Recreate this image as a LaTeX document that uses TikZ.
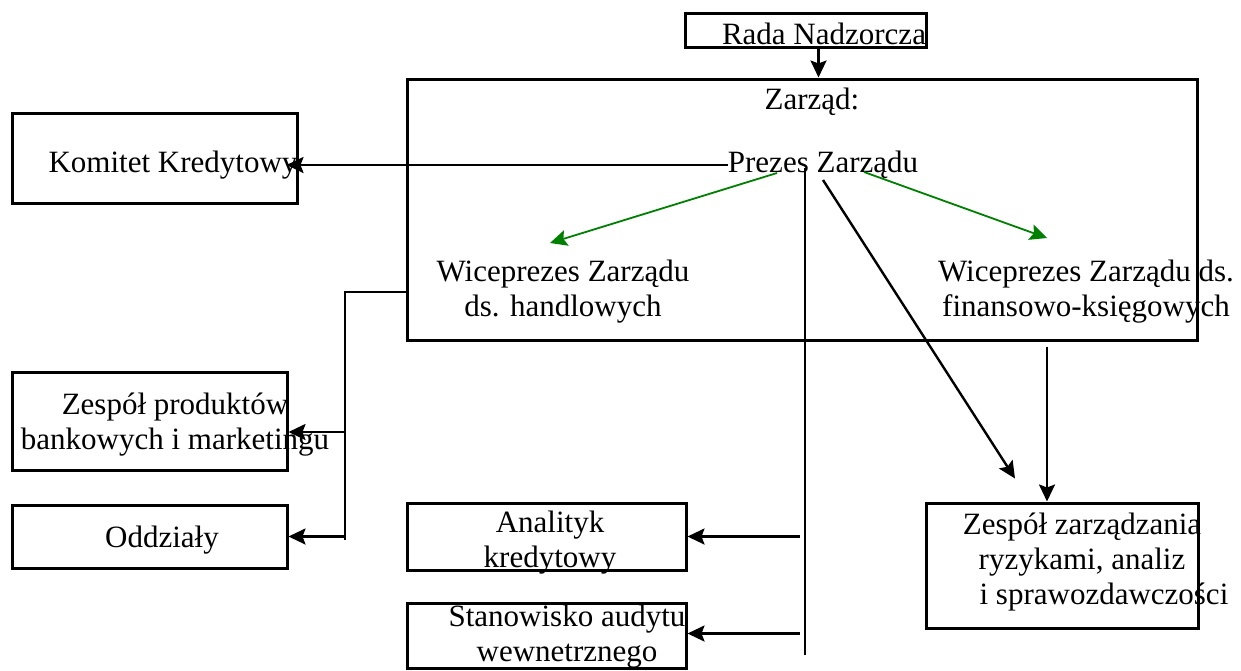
\documentclass[tikz,border=0pt]{standalone}
\usepackage{fontspec}
\setmainfont{Liberation Serif}
\usepackage{tikz}
\usetikzlibrary{arrows.meta}
\usetikzlibrary{calc}
\colorlet{grn}{green!50!black}
\tikzset{box/.style={draw, line width=1.5pt, inner sep=0pt}}
\tikzset{lbl/.style={align=center, inner sep=0pt}}
\tikzset{conn/.style={line width=1.2pt, ->, >={Stealth[length=8.5pt, width=8pt, inset=1.5pt]}}}
\tikzset{thinline/.style={line width=0.6pt}}

\begin{document}
\begin{tikzpicture}[x=0.5pt, y=-0.5pt, font=\fontsize{15.5}{17.5}\selectfont]
\useasboundingbox (0,0) rectangle (1241,670);
\node[box, minimum width=120.5pt, minimum height=17pt] (rada) at (805.5,30) {};
\node[box, minimum width=395pt, minimum height=130.5pt] (zarzad) at (802,209.5) {};
\node[box, minimum width=142.5pt, minimum height=45pt] (komitet) at (154.5,158) {};
\node[box, minimum width=137.5pt, minimum height=49pt] (produkty) at (149.5,421) {};
\node[box, minimum width=137.5pt, minimum height=31.5pt] (oddzialy) at (149.5,536.5) {};
\node[box, minimum width=139.5pt, minimum height=33.5pt] (analityk) at (546.5,536.5) {};
\node[box, minimum width=139.5pt, minimum height=32.5pt] (audyt) at (546.5,635.5) {};
\node[box, minimum width=136pt, minimum height=62.5pt] (ryzyko) at (1062,565.5) {};

\node[lbl] (rada-t) at (824,34) {Rada Nadzorcza};
\node[lbl] (zarzad-t) at (812,102) {Zarząd:};
\node[lbl] (prezes) at (823,165) {Prezes Zarządu};
\node[lbl] (komitet-t) at (173,165) {Komitet Kredytowy};
\node[lbl] (wice1) at (563,292) {Wiceprezes Zarządu\\ds. handlowych};
\node[lbl] (wice2) at (1086,292) {Wiceprezes Zarządu ds.\\finansowo-księgowych};
\node[lbl] (produkty-t) at (175,425) {Zespół produktów\\bankowych i marketingu};
\node[lbl] (oddzialy-t) at (162,540) {Oddziały};
\node[lbl] (analityk-t) at (550,543) {Analityk\\kredytowy};
\node[lbl] (audyt-t) at (567,637) {Stanowisko audytu\\wewnetrznego};
\node[lbl] (ryzyko-t) at (1082,562) {Zespół zarządzania\\ryzykami, analiz\\\hspace*{22pt}i sprawozdawczości};

\coordinate (r) at ($(rada.south)+(13,0)$);
\draw[conn] (r) -- (r |- zarzad.north);
\draw[conn, shorten >=-6pt] (prezes.west) -- (prezes.west -| komitet.east);
\draw[conn, grn, line width=0.9pt] ($(prezes)+(-46,8)$) -- ($(wice1.north)+(-13,-17)$);
\draw[conn, grn, line width=0.9pt] ($(prezes)+(41,7)$) -- ($(wice2.north)+(-39,-22)$);
\draw[conn] ($(prezes)+(0,15)$) -- ($(ryzyko.north)+(-47,-23)$);

\coordinate (spine-top) at ($(prezes)+(-18,3)$);
\coordinate (spine-bot) at (805,655);
\draw[thinline] (spine-top) -- (spine-bot);
\draw[conn] ([xshift=-2.5pt]spine-top |- analityk.east) -- (analityk.east);
\draw[conn] ([xshift=-2.5pt,yshift=1pt]spine-top |- audyt.east) -- ([yshift=1pt]audyt.east);

\coordinate (v) at ($(ryzyko.north)+(-15,0)$);
\draw[conn, shorten <=2.5pt] (v |- zarzad.south) -- (v);

\coordinate (bus-top) at (345,292);
\coordinate (bus-bot) at (345,540);
\draw[thinline] (zarzad.west |- bus-top) -- (bus-top) -- (bus-bot);
\draw[conn] ([yshift=-5.5pt]bus-top |- produkty.east) -- ([yshift=-5.5pt]produkty.east);
\draw[conn] (bus-top |- oddzialy.east) -- (oddzialy.east);
\end{tikzpicture}
\end{document}
